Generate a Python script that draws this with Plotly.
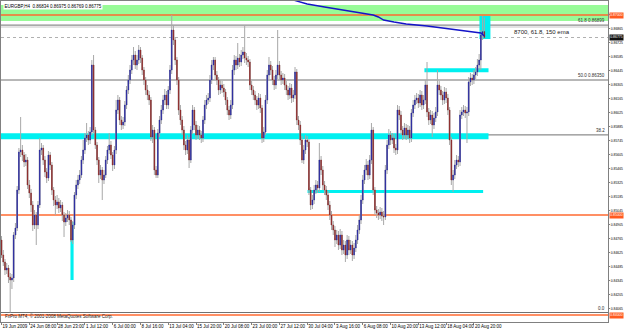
import plotly.graph_objects as go

# ---------------- data ----------------
opens = [
 .8475,.8460,.8453,.8445,.8447,.8438,.8435,.8437,.8480,.8487,
 .8525,.8563,.8565,.8560,.8553,.8555,.8530,.8522,.8510,.8490,
 .8500,.8490,.8510,.8565,.8567,.8555,.8543,.8537,.8560,.8550,
 .8525,.8515,.8510,.8513,.8507,.8510,.8500,.8493,.8497,.8500,
 .8495,.8475,.8490,.8520,.8530,.8535,.8540,.8555,.8565,.8577,
 .8580,.8575,.8583,.8650,.8585,.8570,.8555,.8540,.8545,.8535,
 .8540,.8555,.8565,.8570,.8560,.8550,.8565,.8605,.8615,.8595,
 .8590,.8593,.8610,.8625,.8635,.8645,.8655,.8660,.8650,.8655,
 .8665,.8657,.8645,.8635,.8625,.8620,.8615,.8578,.8585,.8545,
 .8540,.8582,.8595,.8605,.8615,.8620,.8610,.8625,.8645,.8685,
 .8675,.8655,.8635,.8605,.8595,.8585,.8570,.8565,.8575,.8555,
 .8585,.8605,.8590,.8580,.8585,.8580,.8577,.8595,.8610,.8615,
 .8617,.8635,.8650,.8655,.8640,.8635,.8625,.8630,.8627,.8623,
 .8615,.8605,.8600,.8610,.8645,.8655,.8650,.8657,.8653,.8660,
 .8663,.8657,.8655,.8653,.8630,.8625,.8620,.8615,.8610,.8617,
 .8607,.8577,.8583,.8615,.8640,.8650,.8645,.8635,.8630,.8640,
 .8650,.8640,.8635,.8637,.8630,.8625,.8620,.8627,.8617,.8620,
 .8643,.8595,.8590,.8575,.8555,.8565,.8575,.8573,.8525,.8510,
 .8515,.8525,.8530,.8527,.8555,.8545,.8530,.8525,.8520,.8510,
 .8500,.8490,.8485,.8475,.8480,.8470,.8480,.8465,.8470,.8460,
 .8475,.8465,.8470,.8460,.8467,.8475,.8485,.8495,.8515,.8535,
 .8545,.8550,.8540,.8555,.8585,.8525,.8505,.8502,.8500,.8503,
 .8499,.8498,.8545,.8570,.8580,.8575,.8577,.8567,.8565,.8605,
 .8600,.8585,.8580,.8587,.8580,.8585,.8577,.8602,.8610,.8615,
 .8617,.8612,.8620,.8610,.8615,.8630,.8603,.8595,.8600,.8590,
 .8597,.8603,.8630,.8625,.8620,.8615,.8623,.8617,.8605,.8575,
 .8535,.8540,.8550,.8555,.8553,.8600,.8603,.8605,.8602,.8603,
 .8633,.8637,.8635,.8640,.8643,.8650,.8655,.8680,.86834]
highs = [
 .8479,.8465,.8456,.8452,.8450,.8442,.8441,.8483,.8492,.8529,
 .8567,.8598,.8570,.8563,.8561,.8558,.8535,.8526,.8514,.8505,
 .8503,.8514,.8577,.8572,.8570,.8559,.8547,.8564,.8563,.8553,
 .8528,.8519,.8520,.8517,.8515,.8513,.8503,.8502,.8505,.8504,
 .8498,.8494,.8523,.8535,.8540,.8545,.8559,.8575,.8582,.8592,
 .8584,.8588,.8655,.8660,.8588,.8573,.8558,.8550,.8548,.8545,
 .8559,.8569,.8582,.8574,.8563,.8569,.8615,.8620,.8618,.8599,
 .8598,.8614,.8629,.8640,.8650,.8660,.8668,.8664,.8660,.8670,
 .8668,.8660,.8648,.8638,.8630,.8624,.8618,.8590,.8588,.8549,
 .8586,.8599,.8610,.8620,.8626,.8624,.8629,.8650,.8700,.8690,
 .8678,.8658,.8638,.8610,.8599,.8589,.8574,.8580,.8578,.8589,
 .8610,.8608,.8594,.8590,.8589,.8584,.8599,.8615,.8620,.8622,
 .8640,.8655,.8658,.8658,.8644,.8638,.8635,.8634,.8631,.8626,
 .8618,.8609,.8615,.8650,.8660,.8659,.8672,.8661,.8665,.8668,
 .8690,.8662,.8659,.8656,.8634,.8629,.8624,.8619,.8622,.8621,
 .8610,.8588,.8620,.8645,.8658,.8654,.8649,.8639,.8645,.8685,
 .8654,.8644,.8642,.8641,.8634,.8629,.8632,.8631,.8625,.8648,
 .8646,.8599,.8594,.8579,.8570,.8580,.8579,.8576,.8528,.8520,
 .8530,.8535,.8534,.8572,.8559,.8549,.8534,.8529,.8524,.8514,
 .8504,.8494,.8489,.8485,.8484,.8486,.8484,.8475,.8474,.8480,
 .8479,.8475,.8474,.8472,.8480,.8490,.8500,.8520,.8540,.8550,
 .8556,.8554,.8560,.8592,.8588,.8528,.8509,.8506,.8508,.8507,
 .8504,.8550,.8575,.8586,.8584,.8582,.8581,.8571,.8610,.8609,
 .8604,.8589,.8592,.8591,.8590,.8589,.8606,.8615,.8620,.8622,
 .8621,.8625,.8624,.8620,.8635,.8653,.8607,.8605,.8604,.8602,
 .8608,.8645,.8634,.8629,.8624,.8628,.8627,.8621,.8608,.8578,
 .8545,.8555,.8560,.8559,.8605,.8608,.8610,.8609,.8608,.8638,
 .8642,.8641,.8645,.8648,.8656,.8661,.8685,.8699,.86975]
lows = [
 .8457,.8449,.8440,.8441,.8432,.84025,.8426,.8433,.8476,.8484,
 .8521,.8558,.8554,.8548,.8549,.8526,.8517,.8503,.8484,.8486,
 .8470,.8486,.8507,.8560,.8550,.8538,.8532,.8534,.8545,.8520,
 .8509,.8500,.8506,.8502,.8503,.8494,.8478,.8489,.8493,.8490,
 .8473,.8471,.8486,.8516,.8526,.8531,.8537,.8551,.8561,.8573,
 .8570,.8571,.8580,.8582,.8566,.8550,.8532,.8536,.8515,.8531,
 .8537,.8551,.8561,.8556,.8544,.8546,.8561,.8601,.8590,.8585,
 .8586,.8589,.8606,.8621,.8631,.8641,.8650,.8646,.8645,.8651,
 .8652,.8640,.8630,.8620,.8615,.8610,.8574,.8572,.8540,.8537,
 .8537,.8578,.8591,.8601,.8610,.8606,.8606,.8621,.8641,.8670,
 .8650,.8630,.8600,.8590,.8580,.8565,.8560,.8561,.8547,.8552,
 .8581,.8585,.8575,.8576,.8575,.8572,.8573,.8591,.8606,.8611,
 .8613,.8631,.8645,.8636,.8630,.8620,.8621,.8622,.8618,.8610,
 .8600,.8595,.8596,.8606,.8640,.8645,.8646,.8648,.8649,.8656,
 .8652,.8650,.8648,.8625,.8620,.8615,.8610,.8605,.8606,.8602,
 .8572,.8573,.8580,.8611,.8636,.8640,.8630,.8625,.8626,.8636,
 .8635,.8630,.8631,.8625,.8620,.8615,.8616,.8612,.8613,.8616,
 .8590,.8585,.8570,.8552,.8551,.8561,.8568,.8520,.8505,.8506,
 .8511,.8521,.8522,.8523,.8540,.8525,.8520,.8515,.8505,.8495,
 .8485,.8480,.8468,.8471,.8465,.8466,.8460,.8461,.8453,.8456,
 .8460,.8461,.8454,.8456,.8463,.8471,.8481,.8491,.8511,.8531,
 .8540,.8535,.8536,.8551,.8520,.8500,.8497,.8495,.8496,.8494,
 .8490,.8495,.8541,.8566,.8570,.8571,.8562,.8560,.8561,.8595,
 .8580,.8575,.8576,.8575,.8576,.8572,.8573,.8598,.8606,.8611,
 .8607,.8608,.8605,.8606,.8611,.8598,.8590,.8591,.8578,.8586,
 .8593,.8599,.8620,.8615,.8610,.8611,.8612,.8600,.8570,.8530,
 .8523,.8536,.8546,.8548,.8549,.8596,.8599,.8597,.8572,.8599,
 .8629,.8630,.8631,.8636,.8639,.8645,.8645,.8675,.86769]
closes = [
 .8460,.8453,.8445,.8447,.8438,.8435,.8437,.8480,.8487,.8525,
 .8563,.8565,.8560,.8553,.8555,.8530,.8522,.8510,.8490,.8500,
 .8490,.8510,.8565,.8567,.8555,.8543,.8537,.8560,.8550,.8525,
 .8515,.8510,.8513,.8507,.8510,.8500,.8493,.8497,.8500,.8495,
 .8475,.8490,.8520,.8530,.8535,.8540,.8555,.8565,.8577,.8580,
 .8575,.8583,.8650,.8585,.8570,.8555,.8540,.8545,.8535,.8540,
 .8555,.8565,.8570,.8560,.8550,.8565,.8605,.8615,.8595,.8590,
 .8593,.8610,.8625,.8635,.8645,.8655,.8660,.8650,.8655,.8665,
 .8657,.8645,.8635,.8625,.8620,.8615,.8578,.8585,.8545,.8540,
 .8582,.8595,.8605,.8615,.8620,.8610,.8625,.8645,.8685,.8675,
 .8655,.8635,.8605,.8595,.8585,.8570,.8565,.8575,.8555,.8585,
 .8605,.8590,.8580,.8585,.8580,.8577,.8595,.8610,.8615,.8617,
 .8635,.8650,.8655,.8640,.8635,.8625,.8630,.8627,.8623,.8615,
 .8605,.8600,.8610,.8645,.8655,.8650,.8657,.8653,.8660,.8663,
 .8657,.8655,.8653,.8630,.8625,.8620,.8615,.8610,.8617,.8607,
 .8577,.8583,.8615,.8640,.8650,.8645,.8635,.8630,.8640,.8650,
 .8640,.8635,.8637,.8630,.8625,.8620,.8627,.8617,.8620,.8643,
 .8595,.8590,.8575,.8555,.8565,.8575,.8573,.8525,.8510,.8515,
 .8525,.8530,.8527,.8555,.8545,.8530,.8525,.8520,.8510,.8500,
 .8490,.8485,.8475,.8480,.8470,.8480,.8465,.8470,.8460,.8475,
 .8465,.8470,.8460,.8467,.8475,.8485,.8495,.8515,.8535,.8545,
 .8550,.8540,.8555,.8585,.8525,.8505,.8502,.8500,.8503,.8499,
 .8498,.8545,.8570,.8580,.8575,.8577,.8567,.8565,.8605,.8600,
 .8585,.8580,.8587,.8580,.8585,.8577,.8602,.8610,.8615,.8617,
 .8612,.8620,.8610,.8615,.8630,.8603,.8595,.8600,.8590,.8597,
 .8603,.8630,.8625,.8620,.8615,.8623,.8617,.8605,.8575,.8535,
 .8540,.8550,.8555,.8553,.8600,.8603,.8605,.8602,.8603,.8633,
 .8637,.8635,.8640,.8643,.8650,.8655,.8680,.86834,.86775]

tick_idx = [0, 16, 32, 48, 64, 80, 96, 112, 128, 144, 160, 176, 192, 208, 224, 240, 256, 272]
tick_text = ["19 Jun 2009", "24 Jun 08:00", "28 Jun 23:00", "1 Jul 12:00", "6 Jul 00:00",
             "8 Jul 16:00", "13 Jul 04:00", "15 Jul 20:00", "20 Jul 08:00", "23 Jul 00:00",
             "27 Jul 12:00", "30 Jul 04:00", "3 Aug 16:00", "6 Aug 08:00", "10 Aug 20:00",
             "13 Aug 12:00", "18 Aug 04:00", "20 Aug 20:00"]
price_ticks = [0.84065, 0.84205, 0.84345, 0.84485, 0.84625, 0.84765, 0.84905, 0.85045,
               0.85185, 0.85325, 0.85465, 0.85605, 0.85745, 0.85885, 0.86025, 0.86165,
               0.86305, 0.86445, 0.86585, 0.86725, 0.86865, 0.87005]

ema_idx = [168, 176, 186, 196, 204, 210, 214, 217, 220, 226, 233, 245, 257, 265, 272, 276, 278]
ema_val = [.8715, .8711, .8708, .8705, .8703, .8701, .8700, .8698, .8695, .8693, .8691,
           .8689, .8686, .8684, .8683, .8682, .8679]

hlines = [0.8700, 0.8500, 0.8400]
hline_labels = ["0.87000", "0.85000", "0.84000"]
fib_levels = ["61.8 0.86899", "50.0 0.86350", "38.2", "0.0"]
fib_prices = [0.86899, 0.86350, 0.85801, 0.84025]
extra_line = 0.86880
green_zone = (0.8694, 0.8710)
# cyan boxes: (x0 bar, x1 bar, y0 price, y1 price)
cyan_boxes = [(-1, 280.4, 0.85757, 0.85817),
              (243.5, 280.4, 0.86427, 0.86467),
              (176.2, 277.3, 0.8522, 0.8525),
              (39.7, 41.5, 0.8435, 0.8493),
              (275.2, 281.5, 0.8676, 0.8699)]
last_price = 0.86775
title_text = "EURGBP,H4  0.86834 0.86975 0.86769 0.86775"
note_text = "8700, 61.8, 150 ema"
note_pos = (311, 0.8683)
copyright_text = "FxPro MT4, \u00a9 2001-2008 MetaQuotes Software Corp."

# ---------------- figure ----------------
FONT = "Liberation Sans"
idx = list(range(len(closes)))
fig = go.Figure()

# full candles in grey (wicks + outline)
fig.add_trace(go.Candlestick(
    x=idx, open=opens, high=highs, low=lows, close=closes,
    increasing=dict(line=dict(color="#a8a8a8", width=1), fillcolor="#a8a8a8"),
    decreasing=dict(line=dict(color="#a8a8a8", width=1), fillcolor="#a8a8a8"),
    whiskerwidth=0, showlegend=False, hoverinfo="skip"))
# coloured bodies on top
body_hi = [max(o, c) for o, c in zip(opens, closes)]
body_lo = [min(o, c) for o, c in zip(opens, closes)]
fig.add_trace(go.Candlestick(
    x=idx, open=opens, high=body_hi, low=body_lo, close=closes,
    increasing=dict(line=dict(color="#1c1ca0", width=0.4), fillcolor="#1c1ca0"),
    decreasing=dict(line=dict(color="#8c1c1c", width=0.4), fillcolor="#8c1c1c"),
    whiskerwidth=0, showlegend=False, hoverinfo="skip"))

fig.add_trace(go.Scatter(x=ema_idx, y=ema_val, mode="lines", line=dict(color="#1414c8", width=1.4),
                         showlegend=False, hoverinfo="skip"))

shapes = []
shapes.append(dict(type="rect", xref="paper", yref="y", x0=0, x1=1, y0=green_zone[0], y1=green_zone[1],
                   fillcolor="#98fb98", line=dict(width=0), layer="below"))
for (x0, x1, y0, y1) in cyan_boxes:
    shapes.append(dict(type="rect", xref="x", yref="y", x0=x0, x1=x1, y0=y0, y1=y1,
                       fillcolor="#00f0f0", line=dict(width=0), layer="below"))
for lv, p in zip(fib_levels, fib_prices):
    shapes.append(dict(type="line", xref="paper", yref="y", x0=0, x1=1, y0=p, y1=p,
                       line=dict(color="#707070", width=1), layer="below"))
shapes.append(dict(type="line", xref="paper", yref="y", x0=0, x1=1, y0=extra_line, y1=extra_line,
                   line=dict(color="#c8c8c8", width=1), layer="below"))
for p in hlines:
    shapes.append(dict(type="line", xref="paper", yref="y", x0=0, x1=1, y0=p, y1=p,
                       line=dict(color="#ff6a30", width=1.5), layer="below"))
shapes.append(dict(type="line", xref="paper", yref="y", x0=0, x1=1, y0=last_price, y1=last_price,
                   line=dict(color="#b0b0b0", width=1, dash="dot"), layer="below"))

ann = []
for lv, p in zip(fib_levels, fib_prices):
    ann.append(dict(xref="paper", yref="y", x=0.998, y=p, text=lv, showarrow=False,
                    xanchor="right", yanchor="bottom", font=dict(family=FONT, size=4.5, color="#303030")))
for p, t in zip(hlines, hline_labels):
    ann.append(dict(xref="paper", yref="y", x=1, y=p, text=t, showarrow=False, xanchor="left",
                    xshift=1, bgcolor="#ff5a20", borderpad=0.3,
                    font=dict(family=FONT, size=3.4, color="white")))
ann.append(dict(xref="paper", yref="y", x=1, y=last_price, text=f"{last_price:.5f}", showarrow=False,
                xanchor="left", xshift=1, bgcolor="#101010", borderpad=0.3,
                font=dict(family=FONT, size=3.4, color="white")))
ann.append(dict(xref="paper", yref="paper", x=0.003, y=0.997, text=title_text, showarrow=False,
                xanchor="left", yanchor="top", bgcolor="white", borderpad=0.5,
                font=dict(family=FONT, size=4.5, color="black")))
ann.append(dict(xref="x", yref="y", x=note_pos[0], y=note_pos[1], text=note_text, showarrow=False,
                xanchor="center", yanchor="middle", font=dict(family=FONT, size=6, color="#202020")))
ann.append(dict(xref="paper", yref="paper", x=0.003, y=0.003, text=copyright_text, showarrow=False,
                xanchor="left", yanchor="bottom", font=dict(family=FONT, size=4.5, color="#202020")))

fig.update_layout(
    width=625, height=330, margin=dict(l=1, r=17, t=1, b=8, autoexpand=False),
    paper_bgcolor="white", plot_bgcolor="white", boxgap=0.4,
    shapes=shapes, annotations=ann,
    xaxis=dict(range=[-0.3, 349.2], showgrid=False, zeroline=False, rangeslider=dict(visible=False),
               showline=True, linecolor="#808080", linewidth=1, mirror=True, automargin=False,
               ticks="outside", ticklen=2, tickcolor="#808080", tickangle=0,
               tickvals=tick_idx, ticktext=tick_text, ticklabelposition="outside right",
               tickfont=dict(family=FONT, size=4.5, color="black")),
    yaxis=dict(range=[0.8393, 0.8714], side="right", showgrid=False, zeroline=False,
               showline=True, linecolor="#808080", linewidth=1, mirror=True, automargin=False,
               ticks="outside", ticklen=1, tickcolor="#808080",
               tickvals=price_ticks, tickformat=".5f",
               tickfont=dict(family=FONT, size=3.4, color="black")),
)

fig.write_html("out.html", config={"displayModeBar": False})
